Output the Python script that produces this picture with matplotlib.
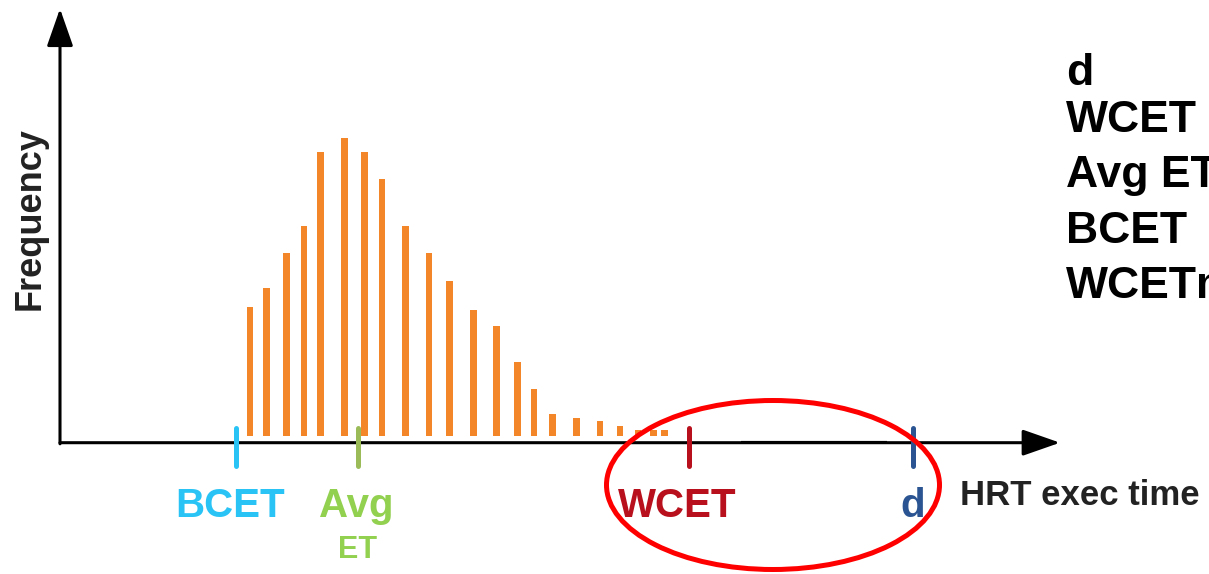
import matplotlib
matplotlib.use("Agg")
from matplotlib import pyplot as plt
from matplotlib.patches import Ellipse

plt.rcParams['font.family'] = ['Liberation Sans', 'DejaVu Sans']

# execution time samples (x in axis units) and how often each one was seen
exec_times = [190, 206.7, 226.7, 244, 260.7, 284.7, 304.7, 322, 345.7, 369, 389.3,
              413.3, 436.7, 457.3, 474, 492.7, 516.7, 540, 560, 578, 593.3, 604.7]
frequency = [129.3, 148.3, 182.7, 210, 284.3, 297.7, 284.3, 257, 210, 182.7, 155.3,
             126, 110, 73.7, 46.7, 21.7, 17.7, 15.3, 10.3, 6, 6, 6]

# marked times on the x axis
marker_names = ['BCET', 'Avg', 'WCET', 'd']
marker_times = [176, 297.7, 629, 852.7]
marker_colors = ['#29c4f5', '#9bbb59', '#b8101c', '#2a5592']
label_colors = ['#29c4f5', '#92d050', '#b8101c', '#2a5592']
label_x = [170, 296.5, 617, 852.5]

side_labels = ['d', 'WCET', 'Avg ET', 'BCET', 'WCETmax']
side_baselines = [85, 132, 187, 243, 298]

W, H = 1209, 574
fig = plt.figure(figsize=(W / 100, H / 100), dpi=100)
ax = fig.add_axes([60 / W, (H - 442.7) / H, 1000 / W, 432.7 / H])
ax.set_xlim(0, 1000)
ax.set_ylim(0, 432.7)
ax.axis('off')

# histogram bars, lifted a little above the axis line
ax.bar(exec_times, frequency, width=6.5, bottom=6.7, color='#f4862a', zorder=2)

# axes drawn as arrows
arrow = dict(arrowstyle='-|>,head_length=0.8,head_width=0.28', lw=2.2, color='black',
             mutation_scale=29, shrinkA=0, shrinkB=0)
ax.annotate('', xy=(1000, 0), xytext=(0, 0), arrowprops=arrow, annotation_clip=False)
ax.annotate('', xy=(0, 434), xytext=(0, -1.1), arrowprops=arrow, annotation_clip=False)
ax.plot([681, 827], [0, 0], color='black', lw=3, solid_capstyle='butt', zorder=3)

# time markers
for t, c in zip(marker_times, marker_colors):
    ax.plot([t, t], [14.7, -23], color=c, lw=3.6, solid_capstyle='round', zorder=4, clip_on=False)
for name, x, c in zip(marker_names, label_x, label_colors):
    ax.text(x, -74, name, color=c, fontsize=29, fontweight='bold', ha='center',
            va='baseline', clip_on=False)
ax.text(297.5, -115, 'ET', color=label_colors[1], fontsize=22, fontweight='bold',
        ha='center', va='baseline', clip_on=False)

ax.text(900, -62, 'HRT exec time', color='#222222', fontsize=25, fontweight='bold',
        va='baseline', clip_on=False)
ax.text(-30, 223.7, 'Frequency', color='#222222', fontsize=26, fontweight='bold',
        rotation=90, ha='center', va='center', clip_on=False)

# highlight of the slack between WCET and deadline
ax.add_patch(Ellipse((713, -42.3), 333, 169, fill=False, edgecolor='#ff0000', lw=3.6,
                     clip_on=False, zorder=5))

# list on the right edge (runs off the picture, as in the original slide)
for s, b in zip(side_labels, side_baselines):
    fig.text(1066 / W, 1 - b / H, s, color='black', fontsize=32, fontweight='bold',
             va='baseline')

fig.savefig('out.png', dpi=100)
